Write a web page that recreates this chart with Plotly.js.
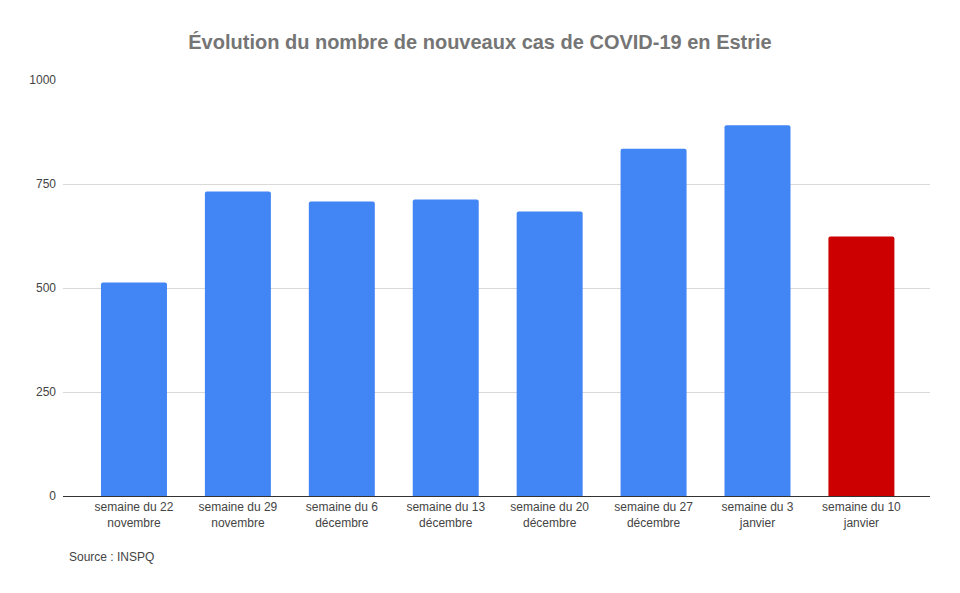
<!DOCTYPE html>
<html><head><meta charset="utf-8">
<script src="https://cdn.plot.ly/plotly-3.0.1.min.js"></script>
<style>html,body{margin:0;padding:0;background:#fff}#chart{width:960px;height:593px}</style>
</head><body><div id="chart"></div>
<script>
const categories = ["semaine du 22<br>novembre","semaine du 29<br>novembre","semaine du 6<br>décembre","semaine du 13<br>décembre","semaine du 20<br>décembre","semaine du 27<br>décembre","semaine du 3<br>janvier","semaine du 10<br>janvier"];
const cases = [513, 732, 708, 713, 684, 835, 891, 624];
const barColors = ["#4285f4","#4285f4","#4285f4","#4285f4","#4285f4","#4285f4","#4285f4","#cc0000"];
const yTicks = [0, 250, 500, 750, 1000];

const trace = {
  type: 'bar',
  x: categories.map((c,i)=>i),
  y: cases,
  marker: {color: barColors, line: {width: 0}},
  hoverinfo: 'skip'
};
const layout = {
  width: 960, height: 593,
  margin: {l: 63, r: 30, t: 80, b: 97},
  paper_bgcolor: '#fff', plot_bgcolor: '#fff',
  font: {family: 'Liberation Sans, Arial, sans-serif', size: 12, color: '#444'},
  title: {text: '<b>Évolution du nombre de nouveaux cas de COVID-19 en Estrie</b>', x: 0.5, xanchor: 'center', y: 0.93, yanchor: 'middle', font: {size: 20, color: '#757575', family: 'Liberation Sans, Arial, sans-serif'}},
  bargap: 0.365,
  barcornerradius: 2,
  showlegend: false,
  xaxis: {
    tickmode: 'array', tickvals: categories.map((c,i)=>i), ticktext: categories,
    range: [-0.683, 7.66], showgrid: false, zeroline: false,
    showline: true, linecolor: '#333', linewidth: 1, ticks: '',
    tickfont: {size: 12, color: '#444'}, fixedrange: true
  },
  yaxis: {
    range: [0, 1000], tickvals: yTicks, ticktext: yTicks.map(String),
    showgrid: true, gridcolor: '#d9d9d9', gridwidth: 1, zeroline: false,
    showline: false, ticks: '', ticklabelstandoff: 6,
    tickfont: {size: 12, color: '#444'}, fixedrange: true
  },
  annotations: [{
    text: 'Source : INSPQ', xref: 'paper', yref: 'paper', x: 0.0046, y: -0.147,
    xanchor: 'left', yanchor: 'middle', showarrow: false,
    font: {size: 12, color: '#444'}
  }]
};
Plotly.newPlot('chart', [trace], layout, {displayModeBar: false, staticPlot: true});
</script></body></html>
